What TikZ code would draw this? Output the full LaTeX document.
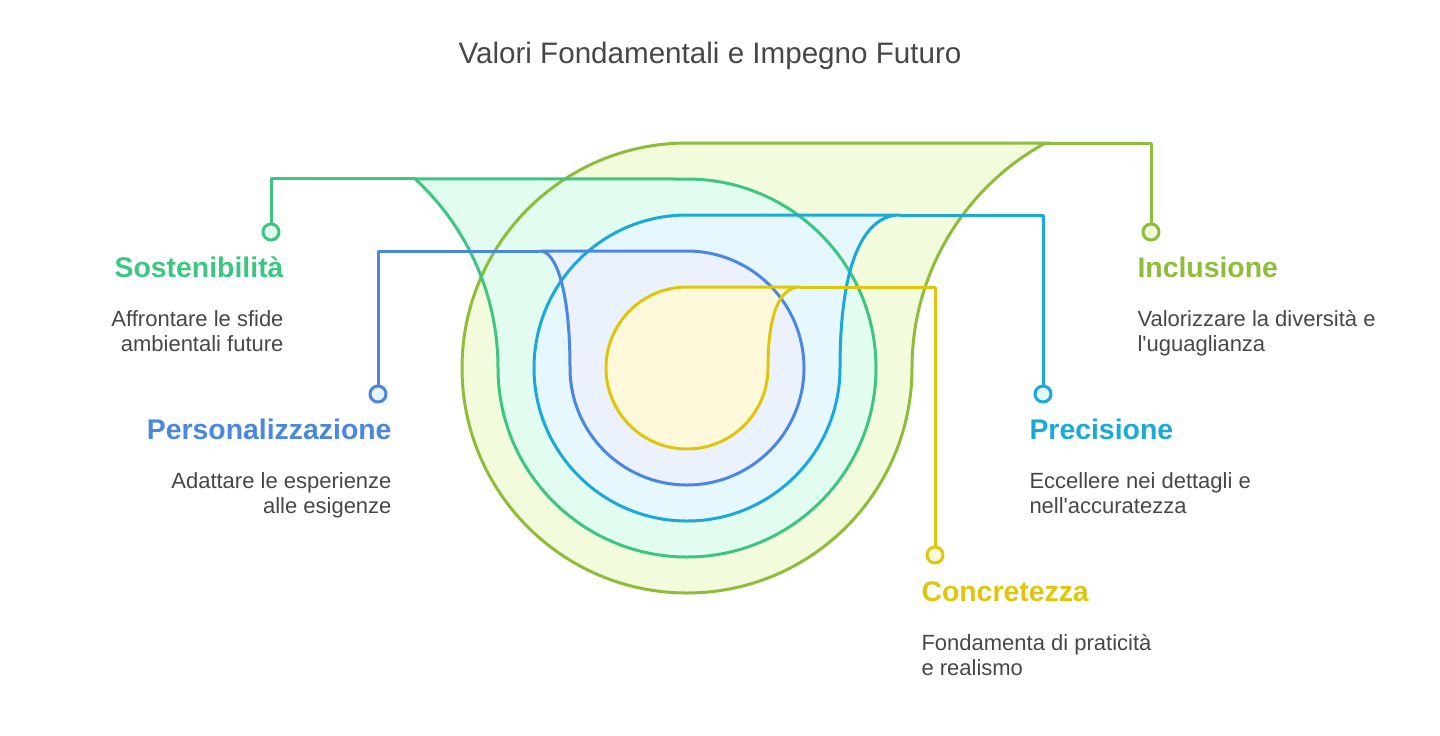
\documentclass[tikz,border=0pt]{standalone}
\usepackage{fontspec}
\setmainfont{Liberation Sans}
\usepackage{tikz}
\usetikzlibrary{calc}
\definecolor{inclcol}{HTML}{8FBD3A}
\definecolor{inclfill}{HTML}{F2FCDD}
\definecolor{sostcol}{HTML}{3DC582}
\definecolor{sostfill}{HTML}{E2FCEF}
\definecolor{preccol}{HTML}{1BA9DA}
\definecolor{precfill}{HTML}{E6F7FD}
\definecolor{perscol}{HTML}{4B87E0}
\definecolor{persfill}{HTML}{ECF2FD}
\definecolor{conccol}{HTML}{E0C60A}
\definecolor{concfill}{HTML}{FEF9DB}
\definecolor{textgray}{HTML}{474747}
\tikzset{
    dotnode/.style={circle, draw=#1, line width=1.5pt, minimum size=8pt, inner sep=0pt},
    heading/.style={font=\fontsize{14.2}{17}\selectfont\bfseries, text=#1, inner sep=0pt},
    desc/.style={font=\fontsize{11}{12.5}\selectfont, text=textgray, inner sep=0pt},
}
% drop outlines: circle plus tail
\newcommand{\inclpath}{(687,143) arc[start angle=270, end angle=0, radius=225]
    arc[start angle=180, end angle=241.3, radius=256.4] coordinate (tIncl) -- cycle}
\newcommand{\sostpath}{(687,179) arc[start angle=-90, end angle=180, radius=189]
    arc[start angle=0, end angle=-47.4, radius=257] coordinate (tSost) -- cycle}
\newcommand{\precpath}{(687,215) arc[start angle=270, end angle=0, radius=153]
    .. controls (840,260) and (865,215) .. (900,215) coordinate (tPrec) -- cycle}
\newcommand{\perspath}{(687,251) arc[start angle=-90, end angle=180, radius=117]
    .. controls (570,290) and (556,251) .. (540,251) coordinate (tPers) -- cycle}
\newcommand{\concpath}{(687,287) arc[start angle=270, end angle=0, radius=81]
    .. controls (768,313) and (780,287) .. (800,287) coordinate (tConc) -- cycle}
\newcommand{\drawlink}{\draw[line width=1.5pt, line join=round]}

\begin{document}
\begin{tikzpicture}[x=0.5pt, y=-0.5pt, line width=1.5pt]
    \useasboundingbox (0,0) rectangle (1440,735);

    % Title
    \node[font=\fontsize{14.8}{18}\selectfont, text=textgray, anchor=base, inner sep=0pt] (title) at (710,63) {Valori Fondamentali e Impegno Futuro};

    % Fill drops, largest first
    \fill[inclfill] \inclpath;
    \fill[sostfill] \sostpath;
    \fill[precfill] \precpath;
    \fill[persfill] \perspath;
    \fill[concfill] \concpath;

    % Draw drop outlines
    \draw[inclcol] \inclpath;
    \draw[sostcol] \sostpath;
    \draw[preccol] \precpath;
    \draw[perscol] \perspath;
    \draw[conccol] \concpath;

    % Draw markers
    \node[dotnode=sostcol, fill=sostfill] (mSost) at (271,232) {};
    \node[dotnode=perscol, fill=persfill] (mPers) at (378,394) {};
    \node[dotnode=inclcol, fill=inclfill] (mIncl) at (1151,232) {};
    \node[dotnode=preccol, fill=precfill] (mPrec) at (1043,394) {};
    \node[dotnode=conccol, fill=concfill] (mConc) at (935,555) {};

    % Draw links
    \drawlink[sostcol] (tSost) -| (mSost);
    \drawlink[perscol] (tPers) -| (mPers);
    \drawlink[inclcol] (tIncl) -| (mIncl);
    \drawlink[preccol] (tPrec) -| (mPrec);
    \drawlink[conccol] (tConc) -| (mConc);

    % Labels (base anchor sits on the last line)
    \node[heading=sostcol, anchor=base east] (hSost) at (285,277) {Sostenibilità};
    \node[desc, anchor=base east, align=right] (dSost) at (285,351) {Affrontare le sfide\\ambientali future};
    \node[heading=perscol, anchor=base east] (hPers) at (393,439) {Personalizzazione};
    \node[desc, anchor=base east, align=right] (dPers) at (393,513) {Adattare le esperienze\\alle esigenze};
    \node[heading=inclcol, anchor=base west] (hIncl) at (1136,277) {Inclusione};
    \node[desc, anchor=base west, align=left] (dIncl) at (1136,351) {Valorizzare la diversità e\\l\textquotesingle uguaglianza};
    \node[heading=preccol, anchor=base west] (hPrec) at (1028,439) {Precisione};
    \node[desc, anchor=base west, align=left] (dPrec) at (1028,513) {Eccellere nei dettagli e\\nell\textquotesingle accuratezza};
    \node[heading=conccol, anchor=base west] (hConc) at (920,601) {Concretezza};
    \node[desc, anchor=base west, align=left] (dConc) at (920,675) {Fondamenta di praticità\\e realismo};
\end{tikzpicture}
\end{document}
